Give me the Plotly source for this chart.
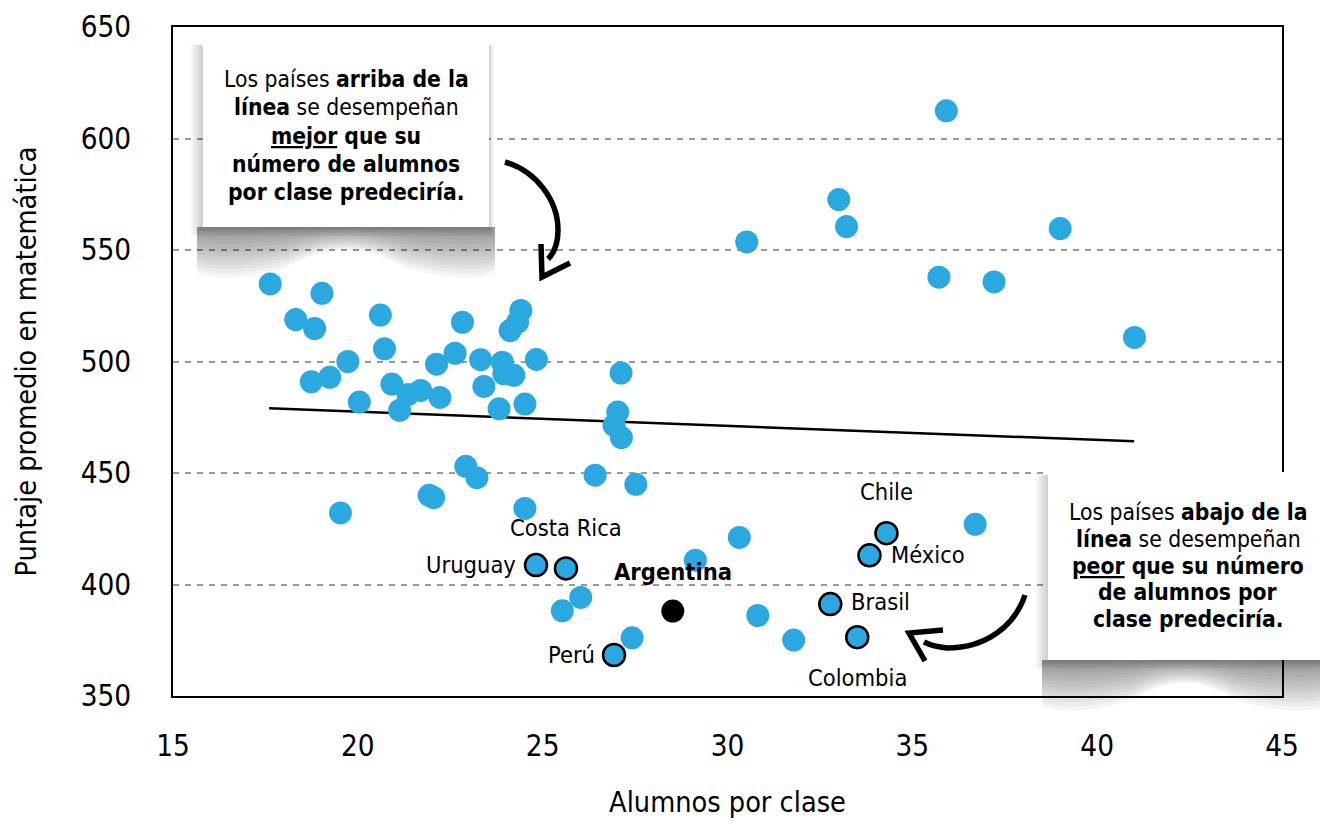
import re
import subprocess
import plotly.graph_objects as go

# ---------------- data ----------------
blue_x = [17.63, 19.03, 18.32, 18.83, 20.61, 20.72, 22.83, 24.41, 24.32, 24.12,
          19.73, 18.74, 19.24, 20.04, 20.92, 21.13, 21.36, 21.70, 22.22, 22.13,
          22.63, 23.32, 23.41, 23.91, 23.95, 24.22, 23.82, 24.52, 24.83, 22.92,
          23.22, 21.93, 22.05, 19.53, 24.52, 27.12, 27.03, 26.93, 27.13, 26.42,
          27.52, 30.32, 29.13, 26.03, 25.53, 30.82, 31.79, 27.42, 35.92, 33.01,
          33.22, 30.52, 39.00, 35.72, 37.21, 41.01, 36.70]
blue_y = [534.8, 530.6, 518.8, 514.8, 520.8, 505.7, 517.6, 522.9, 517.6, 513.9,
          500.0, 490.9, 492.9, 481.8, 489.9, 478.1, 485.2, 487.0, 483.9, 498.8,
          503.7, 500.8, 488.8, 499.7, 494.5, 493.8, 478.8, 480.9, 500.9, 453.0,
          447.9, 440.0, 439.0, 432.1, 434.1, 494.8, 477.3, 471.4, 465.9, 449.0,
          444.9, 421.1, 410.9, 394.2, 388.2, 386.1, 375.1, 376.1, 612.4, 572.6,
          560.5, 553.6, 559.6, 537.8, 535.7, 510.8, 427.0]

hl_names = ["Uruguay", "Costa Rica", "Perú", "Chile", "México", "Brasil", "Colombia"]
hl_x = [24.82, 25.63, 26.93, 34.30, 33.84, 32.78, 33.51]
hl_y = [408.7, 407.2, 368.4, 423.0, 413.1, 391.2, 376.4]

arg_name = ["Argentina"]
arg_x = [28.52]
arg_y = [388.1]

trend_x = [17.6, 41.0]
trend_y = [479.0, 464.2]

x_ticks = [15, 20, 25, 30, 35, 40, 45]
y_ticks = [350, 400, 450, 500, 550, 600, 650]

x_title = "Alumnos por clase"
y_title = "Puntaje promedio en matemática"

box1_lines = ["Los países <b>arriba de la</b>",
              "<b>línea</b> se desempeñan",
              "<b><span style=\"text-decoration:underline\">mejor</span> que su</b>",
              "<b>número de alumnos</b>",
              "<b>por clase predeciría.</b>"]
box2_lines = ["Los países <b>abajo de la</b>",
              "<b>línea</b> se desempeñan",
              "<b><span style=\"text-decoration:underline\">peor</span> que su número</b>",
              "<b>de alumnos por</b>",
              "<b>clase predeciría.</b>"]

# ---------------- font choice ----------------
try:
    fams = subprocess.run(["fc-list", ":", "family"], capture_output=True,
                          text=True, timeout=10).stdout
except Exception:
    fams = ""
candidates = [("Noto Sans Condensed", 1.0), ("Liberation Sans Narrow", 1.0),
              ("DejaVu Sans Condensed", 0.84)]
FONT, SC = "DejaVu Sans Condensed, sans-serif", 0.84
for fam, sc in candidates:
    if fam in fams:
        FONT, SC = fam + ", DejaVu Sans Condensed, sans-serif", sc
        break


def fs(v):
    return round(v * SC, 1)


# ---------------- geometry (page pixels; page has an 8px body margin) ----------------
OFF = 8
W, H = 1328 - OFF, 836 - OFF
PL, PT, PR, PB = 173, 27, 1282, 696          # plot area in page pixels
PW, PH = PR - PL, PB - PT
ML, MT = PL - OFF, PT - OFF
MR, MB = W - ML - PW, H - MT - PH
BLUE = "#2CA8E0"


def X(px):
    return (px - PL) / PW


def Y(py):
    return (PB - py) / PH


def pth(s):
    return re.sub(r'(-?\d+\.?\d*),(-?\d+\.?\d*)',
                  lambda m: f"{X(float(m.group(1))):.5f},{Y(float(m.group(2))):.5f}", s)


fig = go.Figure()

fig.add_trace(go.Scatter(x=trend_x, y=trend_y, mode="lines",
                         line=dict(color="black", width=2.5), hoverinfo="skip"))
fig.add_trace(go.Scatter(x=blue_x, y=blue_y, mode="markers",
                         marker=dict(size=23, color=BLUE, line=dict(width=0))))
fig.add_trace(go.Scatter(x=hl_x, y=hl_y, mode="markers", text=hl_names,
                         marker=dict(size=22, color=BLUE, line=dict(width=2.5, color="black"))))
fig.add_trace(go.Scatter(x=arg_x, y=arg_y, mode="markers", text=arg_name,
                         marker=dict(size=23, color="black", line=dict(width=0))))

# label placement (pixel offsets)
label_style = {
    "Uruguay": dict(xanchor="right", yanchor="middle", xshift=-18, yshift=0),
    "Costa Rica": dict(xanchor="center", yanchor="middle", xshift=0, yshift=40),
    "Perú": dict(xanchor="right", yanchor="middle", xshift=-17, yshift=0),
    "Chile": dict(xanchor="center", yanchor="middle", xshift=0, yshift=41),
    "México": dict(xanchor="left", yanchor="middle", xshift=20, yshift=0),
    "Brasil": dict(xanchor="left", yanchor="middle", xshift=19, yshift=2),
    "Colombia": dict(xanchor="center", yanchor="middle", xshift=0, yshift=-41),
}
annotations = []
for n, xv, yv in zip(hl_names, hl_x, hl_y):
    annotations.append(dict(x=xv, y=yv, xref="x", yref="y", text=n, showarrow=False,
                            font=dict(family=FONT, size=fs(28), color="black"), **label_style[n]))
annotations.append(dict(x=arg_x[0], y=arg_y[0], xref="x", yref="y",
                        text="<b>" + arg_name[0] + "</b>", showarrow=False,
                        xanchor="center", yanchor="middle", yshift=39,
                        font=dict(family=FONT, size=fs(28), color="black")))

# text boxes
box1 = dict(x0=203, y0=42, x1=489, y1=227, cx=346, ys=[79, 107, 136, 164, 192])
box2 = dict(x0=1048, y0=472, x1=1321, y1=660, cx=1188, ys=[512, 539, 566, 592, 619])

shapes = []
for bx in (box1, box2):
    x0, y0, x1, y1 = bx["x0"], bx["y0"], bx["x1"], bx["y1"]
    xc = (x0 + x1) / 2
    # soft edge shadow
    for i in range(1, 9):
        shapes.append(dict(type="path", xref="paper", yref="paper", layer="above",
                           path=pth(f"M {x0 - 1.6 * i},{y0 + 3} L {x1 + 0.6 * i},{y0 + 3} "
                                    f"L {x1 + 0.6 * i},{y1 + 1.2 * i} L {x0 - 1.6 * i},{y1 + 1.2 * i} Z"),
                           fillcolor="rgba(0,0,0,0.022)", line=dict(width=0)))
    # curled paper shadow
    n_layers = 12
    for k in range(n_layers):
        f = 1.0 - k / n_layers
        shapes.append(dict(type="path", xref="paper", yref="paper", layer="above",
                           path=pth(f"M {x0 - 6},{y1} L {x0 - 6},{y1 + 46 * f} "
                                    f"Q {x0 + 25},{y1 + 58 * f} {x0 + 85},{y1 + 40 * f} "
                                    f"Q {xc},{y1 + 6 * f} {x1 - 85},{y1 + 40 * f} "
                                    f"Q {x1 - 25},{y1 + 58 * f} {x1 + 6},{y1 + 46 * f} "
                                    f"L {x1 + 6},{y1} Z"),
                           fillcolor="rgba(0,0,0,0.04)", line=dict(width=0)))
    shapes.append(dict(type="rect", xref="paper", yref="paper", layer="above",
                       x0=X(x0), x1=X(x1), y0=Y(y1), y1=Y(y0),
                       fillcolor="white", line=dict(width=0)))

for bx, lines in ((box1, box1_lines), (box2, box2_lines)):
    for yy, t in zip(bx["ys"], lines):
        annotations.append(dict(x=X(bx["cx"]), y=Y(yy), xref="paper", yref="paper",
                                text=t, showarrow=False, xanchor="center", yanchor="middle",
                                font=dict(family=FONT, size=fs(27), color="black")))

# hand-drawn arrows
arrow_paths = [
    "M 505,162 C 536,171 558,200 558,230 C 558,245 554,253 548,259",
    "M 541,244 L 542,277 L 570,263",
    "M 1025,595 C 1015,625 987,648 947,648 C 937,647 930,645 924,642",
    "M 943,630 L 909,633 L 925,661",
]
for p in arrow_paths:
    shapes.append(dict(type="path", xref="paper", yref="paper", layer="above",
                       path=pth(p), line=dict(color="black", width=5.5)))

fig.update_layout(
    width=W, height=H,
    margin=dict(l=ML, r=MR, t=MT, b=MB, pad=0, autoexpand=False),
    paper_bgcolor="white", plot_bgcolor="white",
    showlegend=False,
    font=dict(family=FONT, color="black"),
    shapes=shapes,
    annotations=annotations,
    xaxis=dict(range=[15, 45], tickvals=x_ticks, ticktext=[str(v) for v in x_ticks],
               automargin=False,
               showgrid=False, zeroline=False,
               showline=True, linecolor="black", linewidth=2, mirror=True,
               ticks="outside", ticklen=23, tickcolor="rgba(0,0,0,0)",
               tickfont=dict(family=FONT, size=fs(35), color="black"),
               title=dict(text=x_title, standoff=30,
                          font=dict(family=FONT, size=fs(34), color="black"))),
    yaxis=dict(range=[350, 650], tickvals=y_ticks, ticktext=[str(v) for v in y_ticks],
               automargin=False,
               showgrid=True, gridcolor="#9a9a9a", gridwidth=2, griddash="6px,6px",
               zeroline=False,
               showline=True, linecolor="black", linewidth=2, mirror=True,
               ticks="outside", ticklen=34, tickcolor="rgba(0,0,0,0)",
               tickfont=dict(family=FONT, size=fs(35), color="black"),
               title=dict(text=y_title, standoff=36,
                          font=dict(family=FONT, size=fs(34), color="black"))),
)

fig.write_html("out.html")
